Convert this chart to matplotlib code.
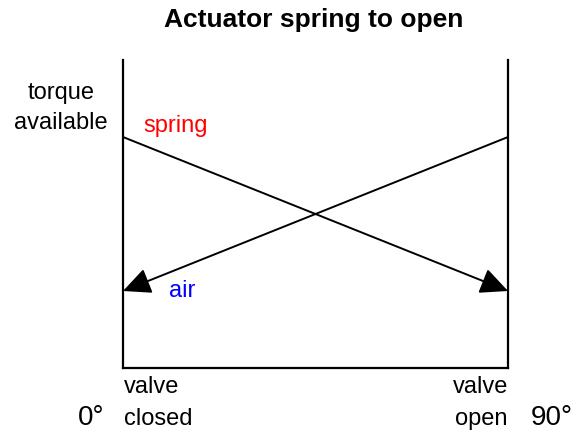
import matplotlib
matplotlib.use('Agg')

import matplotlib.pyplot as plt

plt.rcParams['font.family'] = ['Liberation Sans', 'DejaVu Sans']

# valve angle (degrees) and torque available (arbitrary units)
angle = [0, 90]
spring_torque = [75, 25]
air_torque = [25, 75]

W, H = 580, 430
fig = plt.figure(figsize=(W / 100, H / 100), dpi=100)
ax = fig.add_axes([123 / W, 62 / H, 385 / W, 308 / H])
ax.set_xlim(0, 90)
ax.set_ylim(0, 100)
ax.spines['top'].set_visible(False)
for s in ['left', 'right', 'bottom']:
    ax.spines[s].set_linewidth(1.6)
ax.set_xticks([])
ax.set_yticks([])

# spring line goes left -> right, air line right -> left
arrow = dict(arrowstyle='-|>,head_length=0.85,head_width=0.4', color='black',
             lw=1.4, mutation_scale=20, shrinkA=0, shrinkB=0)
ax.annotate('', xy=(angle[1], spring_torque[1]), xytext=(angle[0], spring_torque[0]),
            arrowprops=arrow)
ax.annotate('', xy=(angle[0], air_torque[0]), xytext=(angle[1], air_torque[1]),
            arrowprops=arrow)

ax.text(4.7, 76.6, 'spring', color='red', fontsize=17, ha='left', va='baseline')
ax.text(10.7, 23.0, 'air', color='blue', fontsize=17, ha='left', va='baseline')


def label(px, py, s, size=17, ha='left', **kw):
    # place text by pixel position (baseline) in the figure
    fig.text(px / W, 1 - py / H, s, fontsize=size, ha=ha, va='baseline', **kw)


label(314, 27, 'Actuator spring to open', size=19, ha='center', fontweight='bold')
label(61, 99, 'torque', ha='center')
label(61, 129, 'available', ha='center')
label(124, 393, 'valve')
label(124, 425, 'closed')
label(508, 393, 'valve', ha='right')
label(508, 425, 'open', ha='right')
label(78, 425, '0°', size=20)
label(531, 425, '90°', size=20)

plt.savefig('out.png', dpi=100)
